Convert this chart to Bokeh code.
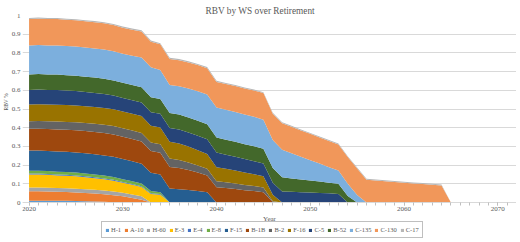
from bokeh.plotting import figure
from bokeh.models import ColumnDataSource, Range1d, FixedTicker, Legend, Title
from bokeh.embed import file_html
from bokeh.resources import INLINE

# Remaining book value (share of the 2020 fleet value) per weapon system, by year
years = list(range(2020, 2066))

h_1 = [0.010, 0.010, 0.010, 0.009, 0.009, 0.008, 0.007, 0.006, 0.004, 0.002, 0.0]
a_10 = [0.050, 0.050, 0.049, 0.048, 0.047, 0.046, 0.044, 0.042, 0.040, 0.037,
        0.033, 0.024, 0.015, 0.0]
h_60 = [0.020, 0.020, 0.020, 0.020, 0.020, 0.020, 0.020, 0.020, 0.020, 0.020,
        0.019, 0.019, 0.018, 0.0]
e_3 = [0.070, 0.070, 0.069, 0.068, 0.067, 0.066, 0.064, 0.062, 0.060, 0.057,
       0.054, 0.052, 0.050, 0.046, 0.042, 0.0]
e_4 = [0.005, 0.005, 0.005, 0.005, 0.005, 0.005, 0.005, 0.005, 0.005, 0.005,
       0.004, 0.004, 0.004, 0.003, 0.003, 0.0]
e_8 = [0.015, 0.015, 0.015, 0.015, 0.015, 0.015, 0.015, 0.015, 0.015, 0.015,
       0.015, 0.015, 0.015, 0.012, 0.010, 0.0]
f_15 = [0.108, 0.108, 0.108, 0.108, 0.108, 0.108, 0.108, 0.108, 0.108, 0.108,
        0.107, 0.106, 0.105, 0.098, 0.095, 0.075, 0.071, 0.067, 0.062, 0.055,
        0.0]
b_1b = [0.116, 0.117, 0.117, 0.118, 0.118, 0.118, 0.119, 0.119, 0.120, 0.120,
        0.120, 0.120, 0.119, 0.117, 0.116, 0.115, 0.113, 0.107, 0.099, 0.090,
        0.082, 0.077, 0.072, 0.066, 0.061, 0.055, 0.003, 0.0]
b_2 = [0.040, 0.041, 0.041, 0.042, 0.042, 0.043, 0.043, 0.044, 0.044, 0.045,
       0.045, 0.045, 0.045, 0.045, 0.045, 0.045, 0.043, 0.040, 0.037, 0.035,
       0.032, 0.031, 0.030, 0.028, 0.027, 0.025, 0.004, 0.0]
f_16 = [0.090, 0.090, 0.090, 0.090, 0.090, 0.090, 0.090, 0.090, 0.090, 0.090,
        0.090, 0.090, 0.092, 0.090, 0.090, 0.090, 0.088, 0.085, 0.082, 0.080,
        0.075, 0.072, 0.069, 0.066, 0.063, 0.060, 0.035, 0.0]
c_5 = [0.078, 0.078, 0.078, 0.078, 0.078, 0.077, 0.076, 0.075, 0.074, 0.073,
       0.072, 0.072, 0.072, 0.072, 0.073, 0.074, 0.075, 0.076, 0.077, 0.078,
       0.078, 0.076, 0.074, 0.072, 0.070, 0.068, 0.064, 0.059, 0.057, 0.055,
       0.053, 0.051, 0.049, 0.046, 0.0]
b_52 = [0.083, 0.083, 0.083, 0.083, 0.082, 0.082, 0.082, 0.082, 0.082, 0.081,
        0.081, 0.081, 0.081, 0.080, 0.080, 0.080, 0.080, 0.080, 0.080, 0.080,
        0.080, 0.080, 0.080, 0.080, 0.080, 0.080, 0.078, 0.076, 0.072, 0.068,
        0.065, 0.061, 0.057, 0.054, 0.035, 0.0]
c_135 = [0.155, 0.155, 0.155, 0.156, 0.156, 0.156, 0.156, 0.156, 0.156, 0.156,
         0.156, 0.157, 0.160, 0.160, 0.155, 0.150, 0.152, 0.155, 0.158, 0.160,
         0.161, 0.160, 0.159, 0.158, 0.157, 0.155, 0.150, 0.147, 0.134, 0.121,
         0.108, 0.096, 0.083, 0.071, 0.065, 0.040, 0.0]
c_130 = [0.141, 0.141, 0.141, 0.141, 0.140, 0.140, 0.140, 0.140, 0.140, 0.140,
         0.139, 0.139, 0.139, 0.137, 0.137, 0.139, 0.139, 0.139, 0.140, 0.140,
         0.137, 0.138, 0.139, 0.140, 0.141, 0.142, 0.141, 0.142, 0.142, 0.141,
         0.141, 0.140, 0.140, 0.139, 0.143, 0.142, 0.122, 0.118, 0.114, 0.110,
         0.106, 0.102, 0.099, 0.095, 0.091, 0.0]
c_17 = [0.006, 0.006, 0.006, 0.006, 0.006, 0.006, 0.006, 0.006, 0.006, 0.006,
        0.006, 0.006, 0.006, 0.006, 0.006, 0.006, 0.006, 0.006, 0.006, 0.006,
        0.006, 0.005, 0.005, 0.005, 0.005, 0.005, 0.005, 0.005, 0.005, 0.005,
        0.005, 0.005, 0.005, 0.005, 0.005, 0.005, 0.005, 0.005, 0.005, 0.005,
        0.005, 0.005, 0.005, 0.005, 0.005, 0.0]

systems = ["H-1", "A-10", "H-60", "E-3", "E-4", "E-8", "F-15", "B-1B", "B-2",
           "F-16", "C-5", "B-52", "C-135", "C-130", "C-17"]
series = [h_1, a_10, h_60, e_3, e_4, e_8, f_15, b_1b, b_2, f_16, c_5, b_52,
          c_135, c_130, c_17]
colors = ["#5B9BD5", "#ED7D31", "#A5A5A5", "#FFC000", "#4472C4", "#70AD47",
          "#255E91", "#9E480E", "#636363", "#997300", "#264478", "#43682B",
          "#7CAFDD", "#F1975A", "#B7B7B7"]

x_ticks = [2020, 2030, 2040, 2050, 2060, 2070]
y_ticks = [0, 0.1, 0.2, 0.3, 0.4, 0.5, 0.6, 0.7, 0.8, 0.9, 1]
y_tick_labels = ["0", "0.1", "0.2", "0.3", "0.4", "0.5", "0.6", "0.7", "0.8", "0.9", "1"]

# each system retires at the end of its list; later years carry no value
data = {"year": years}
for name, vals in zip(systems, series):
    data[name] = vals + [0.0] * (len(years) - len(vals))
source = ColumnDataSource(data)

SERIF = "Liberation Serif"
GREY = "#595959"

# the frame reaches below zero so that the year axis, its caption and the
# legend row all sit inside the drawing area
p = figure(frame_width=494, frame_height=225, output_backend="svg",
           toolbar_location=None,
           x_range=Range1d(2019.3, 2072), y_range=Range1d(-0.2032, 1),
           min_border_left=21, min_border_right=0, min_border_top=15,
           min_border_bottom=0)
p.outline_line_color = None
p.background_fill_color = "white"
p.border_fill_color = "white"

p.title.text = "RBV by WS over Retirement"
p.title.text_font = SERIF
p.title.text_font_size = "9.3px"
p.title.text_font_style = "normal"
p.title.text_color = GREY
p.title.align = "left"
p.title.offset = 183
p.title.standoff = 0

renderers = p.varea_stack(systems, x="year", color=colors, source=source)

# year axis pinned at zero
xa = p.xaxis[0]
xa.fixed_location = 0
xa.ticker = FixedTicker(ticks=x_ticks, minor_ticks=list(range(2020, 2073)))
xa.axis_line_color = "#D9D9D9"
xa.major_tick_line_color = "#BFBFBF"
xa.minor_tick_line_color = "#BFBFBF"
xa.major_tick_in = 0
xa.major_tick_out = 3
xa.minor_tick_in = 0
xa.minor_tick_out = 3
xa.major_label_standoff = 1
xa.major_label_text_font = SERIF
xa.major_label_text_font_size = "7px"
xa.major_label_text_color = GREY
xa.axis_label = "Year"
xa.axis_label_text_font = SERIF
xa.axis_label_text_font_size = "7px"
xa.axis_label_text_font_style = "normal"
xa.axis_label_text_color = GREY
xa.axis_label_standoff = 1

ya = p.yaxis[0]
ya.ticker = FixedTicker(ticks=y_ticks)
ya.major_label_overrides = dict(zip(y_ticks, y_tick_labels))
ya.axis_line_color = None
ya.major_tick_line_color = None
ya.minor_tick_line_color = None
ya.major_tick_in = 0
ya.major_tick_out = 0
ya.minor_tick_in = 0
ya.minor_tick_out = 0
ya.major_label_standoff = 2
ya.major_label_text_font = SERIF
ya.major_label_text_font_size = "7px"
ya.major_label_text_color = GREY

# vertical caption beside the 0..1 span
p.add_layout(Title(text="RBV %", align="left", offset=130, standoff=0,
                   text_font=SERIF, text_font_size="5.5px",
                   text_font_style="normal", text_color=GREY), "left")

p.xgrid.grid_line_color = None
p.ygrid.grid_line_color = "#D9D9D9"
p.ygrid.grid_line_width = 1

# legend row under the axis caption
lg = Legend(items=[(name, [r]) for name, r in zip(systems, renderers)],
            orientation="horizontal", location=(79, 2))
lg.label_text_font = SERIF
lg.label_text_font_size = "6.5px"
lg.label_text_color = GREY
lg.glyph_width = 4
lg.glyph_height = 4
lg.label_width = 0
lg.label_height = 9
lg.label_standoff = 2
lg.spacing = 3
lg.padding = 3
lg.margin = 0
lg.border_line_color = "#808080"
lg.border_line_width = 1.5
lg.background_fill_alpha = 1
p.add_layout(lg, "center")

open("out.html", "w").write(file_html(p, INLINE))
